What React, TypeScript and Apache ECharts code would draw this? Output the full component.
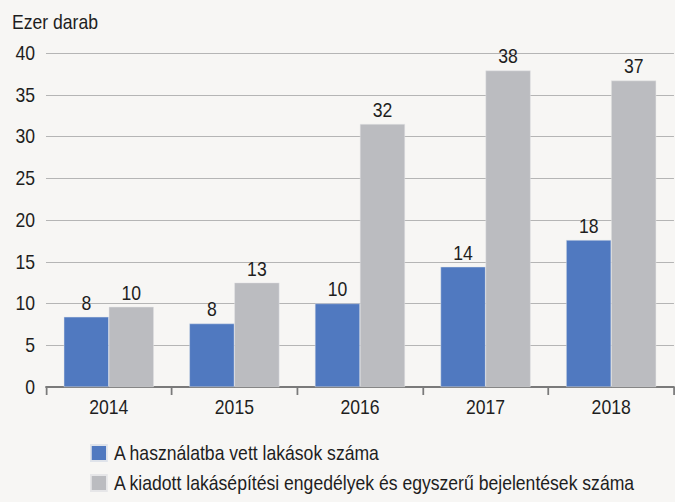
import React, { useEffect, useRef } from "react";
import * as echarts from "echarts";

const categories = ["2014", "2015", "2016", "2017", "2018"];
const completed = [8.4, 7.6, 10.0, 14.4, 17.6];
const permits = [9.6, 12.5, 31.5, 37.9, 36.7];
const seriesNames = [
  "A használatba vett lakások száma",
  "A kiadott lakásépítési engedélyek és egyszerű bejelentések száma",
];
const yTitle = "Ezer darab";

// horizontal squeeze to mimic the condensed font of the reference
const SX = 0.88;
const W = 675;
const H = 502;

export default function App() {
  const ref = useRef<HTMLDivElement>(null);
  useEffect(() => {
    if (!ref.current) return;
    const chart = echarts.init(ref.current, null, { renderer: "svg" });
    const font = "'Liberation Sans', Arial, sans-serif";
    const fs = 20;
    const x = (v: number) => v / SX;
    const label = {
      show: true,
      position: "top",
      distance: 4,
      color: "#1e1e1e",
      fontSize: fs,
      fontFamily: font,
      formatter: (p: any) => String(Math.round(p.value)),
    };
    const legendBase = {
      orient: "vertical",
      left: x(90),
      padding: 0,
      itemWidth: x(16),
      itemHeight: 16,
      icon: "rect",
      textStyle: { fontSize: fs, color: "#1e1e1e", fontFamily: font, padding: [0, 0, 0, 3] },
    };
    chart.setOption({
      animation: false,
      backgroundColor: "#f7f6f4",
      textStyle: { fontFamily: font },
      grid: { left: x(46), right: x(1), top: 53, bottom: 115, containLabel: false },
      graphic: [
        {
          type: "text",
          left: x(12),
          top: 12,
          style: { text: yTitle, fill: "#1e1e1e", font: `${fs}px ${font}` },
        },
      ],
      legend: [
        { ...legendBase, top: 443, data: [seriesNames[0]] },
        { ...legendBase, top: 473, data: [seriesNames[1]] },
      ],
      xAxis: {
        type: "category",
        data: categories,
        axisLine: { show: true, lineStyle: { color: "#7a7a7a", width: 2 } },
        axisTick: { show: true, length: 8, lineStyle: { color: "#7a7a7a", width: 2 } },
        axisLabel: { fontSize: fs, color: "#1e1e1e", margin: 10, fontFamily: font },
      },
      yAxis: {
        type: "value",
        min: 0,
        max: 40,
        interval: 5,
        axisLine: { show: false },
        axisTick: { show: false },
        axisLabel: { fontSize: fs, color: "#1e1e1e", margin: x(11), fontFamily: font },
        splitLine: { lineStyle: { color: "#b0b0b0", width: 1 } },
      },
      series: [
        {
          name: seriesNames[0],
          type: "bar",
          data: completed,
          barWidth: x(45),
          barGap: "0%",
          itemStyle: { color: "#5079c0", borderColor: "#dfe3ea", borderWidth: 0.5 },
          label,
        },
        {
          name: seriesNames[1],
          type: "bar",
          data: permits,
          barWidth: x(45),
          barGap: "0%",
          itemStyle: { color: "#bbbcc0", borderColor: "#e6e6e8", borderWidth: 0.5 },
          label,
        },
      ],
    });
    return () => chart.dispose();
  }, []);
  return (
    <div
      style={{ position: "fixed", left: 0, top: 0, width: W, height: H, overflow: "hidden", background: "#f7f6f4" }}
    >
      <div
        ref={ref}
        style={{
          width: W / SX,
          height: H,
          transform: `scaleX(${SX})`,
          transformOrigin: "0 0",
        }}
      />
    </div>
  );
}
